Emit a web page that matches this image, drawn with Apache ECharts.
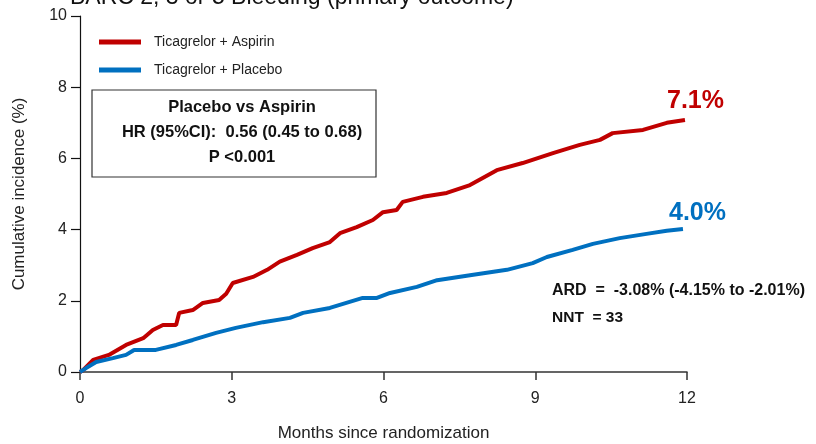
<!DOCTYPE html>
<html>
<head>
<meta charset="utf-8">
<script src="https://cdn.jsdelivr.net/npm/echarts@6/dist/echarts.min.js"></script>
<style>
  html, body { margin: 0; padding: 0; background: #fff; }
  #chart { width: 816px; height: 444px; }
</style>
</head>
<body>
<div id="chart"></div>
<script>
// months / cumulative incidence (%)
const aspirinMonths = [0, 0.06, 0.26, 0.57, 0.91, 1.25, 1.44, 1.64, 1.9, 1.96, 2.23, 2.43, 2.75, 2.89, 3.02, 3.42, 3.7, 3.95, 4.29, 4.6, 4.94, 5.14, 5.47, 5.79, 5.99, 6.26, 6.38, 6.78, 7.25, 7.71, 8.24, 8.75, 9.35, 9.88, 10.28, 10.53, 11.13, 11.6, 11.96]
const aspirinValues = [0, 0.05, 0.34, 0.48, 0.76, 0.95, 1.18, 1.32, 1.32, 1.66, 1.74, 1.94, 2.02, 2.2, 2.5, 2.67, 2.87, 3.1, 3.29, 3.48, 3.65, 3.9, 4.07, 4.27, 4.49, 4.55, 4.78, 4.92, 5.03, 5.25, 5.67, 5.87, 6.15, 6.38, 6.52, 6.71, 6.8, 7.0, 7.08]

const placeboMonths = [0, 0.12, 0.32, 0.65, 0.91, 1.07, 1.5, 1.9, 2.23, 2.69, 3.08, 3.62, 4.15, 4.41, 4.94, 5.59, 5.87, 6.13, 6.66, 7.06, 7.71, 8.44, 8.95, 9.23, 9.74, 10.14, 10.67, 11.2, 11.6, 11.92]
const placeboValues = [0, 0.11, 0.28, 0.39, 0.48, 0.62, 0.62, 0.76, 0.9, 1.1, 1.24, 1.4, 1.52, 1.66, 1.8, 2.08, 2.08, 2.22, 2.39, 2.58, 2.72, 2.87, 3.06, 3.23, 3.43, 3.6, 3.76, 3.88, 3.97, 4.02]

const seriesNames = ['Ticagrelor + Aspirin', 'Ticagrelor + Placebo']
const xTicks = [0, 3, 6, 9, 12]
const yTicks = [0, 2, 4, 6, 8, 10]

const RED = '#C00000'
const BLUE = '#0070C0'
const FONT = 'Liberation Sans, Arial, sans-serif'
const NARROW = 'Liberation Sans Narrow, Liberation Sans, Arial, sans-serif'

const chart = echarts.init(document.getElementById('chart'), null, { renderer: 'canvas' })

function pairs(xs, ys) {
  return xs.map((x, i) => [x, ys[i]])
}

const option = {
  animation: false,
  grid: { left: 80, right: 129, top: 16, bottom: 72, containLabel: false, outerBoundsMode: 'none' },
  legend: {
    orient: 'vertical',
    left: 94,
    top: 30,
    itemWidth: 42,
    itemHeight: 5,
    itemGap: 14,
    icon: 'rect',
    textStyle: { fontFamily: FONT, fontSize: 14, color: '#222', padding: [0, 0, 0, 8] },
    data: seriesNames
  },
  xAxis: {
    type: 'value',
    min: 0,
    max: 12,
    interval: 3,
    name: 'Months since randomization',
    nameLocation: 'middle',
    nameGap: 53,
    nameTextStyle: { fontFamily: NARROW, fontSize: 17, color: '#222' },
    axisLine: { lineStyle: { color: '#333', width: 1.5 } },
    axisTick: { show: true, length: 8, lineStyle: { color: '#333', width: 1.5 } },
    axisLabel: { fontFamily: NARROW, fontSize: 16, color: '#222', margin: 19,
      formatter: v => xTicks.includes(v) ? String(v) : '' },
    splitLine: { show: false }
  },
  yAxis: {
    type: 'value',
    min: 0,
    max: 10,
    interval: 2,
    name: 'Cumulative incidence (%)',
    nameLocation: 'middle',
    nameGap: 52,
    nameTextStyle: { fontFamily: FONT, fontSize: 17, color: '#222' },
    axisLine: { show: true, lineStyle: { color: '#111', width: 1.2 } },
    axisTick: { show: true, length: 9, lineStyle: { color: '#111', width: 1.2 } },
    axisLabel: { fontFamily: FONT, fontSize: 16, color: '#222', margin: 13,
      formatter: v => yTicks.includes(v) ? String(v) : '' },
    splitLine: { show: false }
  },
  series: [
    {
      name: seriesNames[0],
      type: 'line',
      data: pairs(aspirinMonths, aspirinValues),
      showSymbol: false,
      symbol: 'none',
      color: RED,
      lineStyle: { color: RED, width: 4 }
    },
    {
      name: seriesNames[1],
      type: 'line',
      data: pairs(placeboMonths, placeboValues),
      showSymbol: false,
      symbol: 'none',
      color: BLUE,
      lineStyle: { color: BLUE, width: 4 }
    }
  ],
  graphic: [
    {
      type: 'text', left: 70, top: -14,
      style: { text: 'BARC 2, 3 or 5 Bleeding (primary outcome)', fontFamily: FONT, fontSize: 23, fill: '#111' }
    },
    {
      type: 'rect', shape: { x: 92, y: 90, width: 284, height: 87 },
      style: { fill: '#fff', stroke: '#333', lineWidth: 1.2 }
    },
    {
      type: 'text', x: 242, y: 107,
      style: { text: 'Placebo vs Aspirin', fontFamily: FONT, fontWeight: 'bold', fontSize: 16.5, fill: '#111', align: 'center', verticalAlign: 'middle' }
    },
    {
      type: 'text', x: 242, y: 132,
      style: { text: 'HR (95%CI):  0.56 (0.45 to 0.68)', fontFamily: FONT, fontWeight: 'bold', fontSize: 16.5, fill: '#111', align: 'center', verticalAlign: 'middle' }
    },
    {
      type: 'text', x: 242, y: 157,
      style: { text: 'P <0.001', fontFamily: FONT, fontWeight: 'bold', fontSize: 16.5, fill: '#111', align: 'center', verticalAlign: 'middle' }
    },
    {
      type: 'text', x: 667, y: 101,
      style: { text: '7.1%', fontFamily: FONT, fontWeight: 'bold', fontSize: 25, fill: RED, verticalAlign: 'middle' }
    },
    {
      type: 'text', x: 669, y: 213,
      style: { text: '4.0%', fontFamily: FONT, fontWeight: 'bold', fontSize: 25, fill: BLUE, verticalAlign: 'middle' }
    },
    {
      type: 'text', x: 552, y: 291,
      style: { text: 'ARD  =  -3.08% (-4.15% to -2.01%)', fontFamily: FONT, fontWeight: 'bold', fontSize: 16, fill: '#111', verticalAlign: 'middle' }
    },
    {
      type: 'text', x: 552, y: 318,
      style: { text: 'NNT  = 33', fontFamily: FONT, fontWeight: 'bold', fontSize: 15.5, fill: '#111', verticalAlign: 'middle' }
    }
  ]
}

chart.setOption(option)
</script>
</body>
</html>
